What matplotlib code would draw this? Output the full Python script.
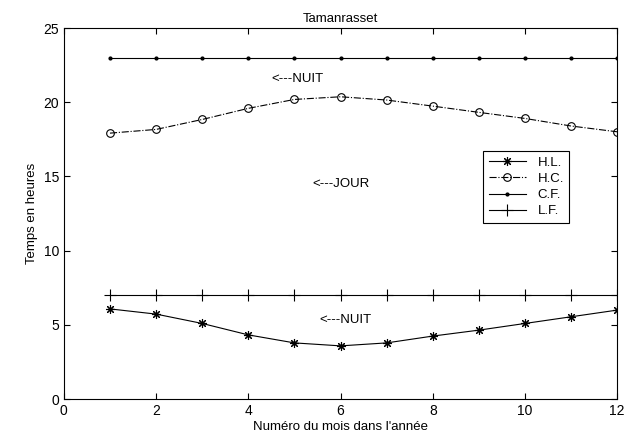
import numpy as np
import matplotlib
matplotlib.use("Agg")
import matplotlib.pyplot as plt

plt.rcParams["font.family"] = ["Liberation Sans", "DejaVu Sans"]

# Data
mois = [1, 2, 3, 4, 5, 6, 7, 8, 9, 10, 11, 12]
hl = [6.08, 5.73, 5.10, 4.33, 3.79, 3.59, 3.79, 4.25, 4.65, 5.10, 5.55, 6.00]
hc = [17.92, 18.17, 18.84, 19.59, 20.19, 20.37, 20.15, 19.74, 19.32, 18.91, 18.40, 18.01]
cf = [23] * 12
lf = [7] * 12

fig = plt.figure(figsize=(6.26, 4.45), dpi=100)
ax = fig.add_axes([0.102, 0.103, 0.884, 0.834])

# matlab style asterisk = plus + cross
ax.plot(mois, hl, color="k", linestyle="-", marker=(8, 2, 0), lw=0.8, ms=6.5, mew=0.8, label="H.L.")
ax.plot(mois, hc, color="k", linestyle="-.", marker="o", lw=0.8, ms=5.5, mfc="none", mew=0.8, label="H.C.")
ax.plot(mois, cf, color="k", linestyle="-", marker=".", lw=0.8, ms=4, label="C.F.")
ax.plot(mois, lf, color="k", linestyle="-", marker="+", lw=0.8, ms=8, mew=0.8, label="L.F.")

ax.text(4.5, 21.6, "<---NUIT", fontsize=9.5, va="center")
ax.text(5.4, 14.5, "<---JOUR", fontsize=9.5, va="center")
ax.text(5.55, 5.3, "<---NUIT", fontsize=9.5, va="center")

ax.set_xlim(0, 12)
ax.set_ylim(0, 25)
ax.set_xticks(np.arange(0, 13, 2))
ax.set_yticks(np.arange(0, 26, 5))
ax.tick_params(direction="in", top=True, right=True, labelsize=10, length=4)
ax.set_title("Tamanrasset", fontsize=9.5, pad=4)
ax.set_xlabel("Numéro du mois dans l'année", fontsize=9.5, labelpad=2)
ax.set_ylabel("Temps en heures", fontsize=9.5)

leg = ax.legend(loc="upper left", bbox_to_anchor=(0.758, 0.668), fontsize=9.5,
                fancybox=False, framealpha=1, edgecolor="black",
                borderpad=0.4, labelspacing=0.3, handlelength=2.8, handletextpad=0.9,
                borderaxespad=0)
leg.get_frame().set_linewidth(0.8)

fig.savefig("out.png", dpi=100)
